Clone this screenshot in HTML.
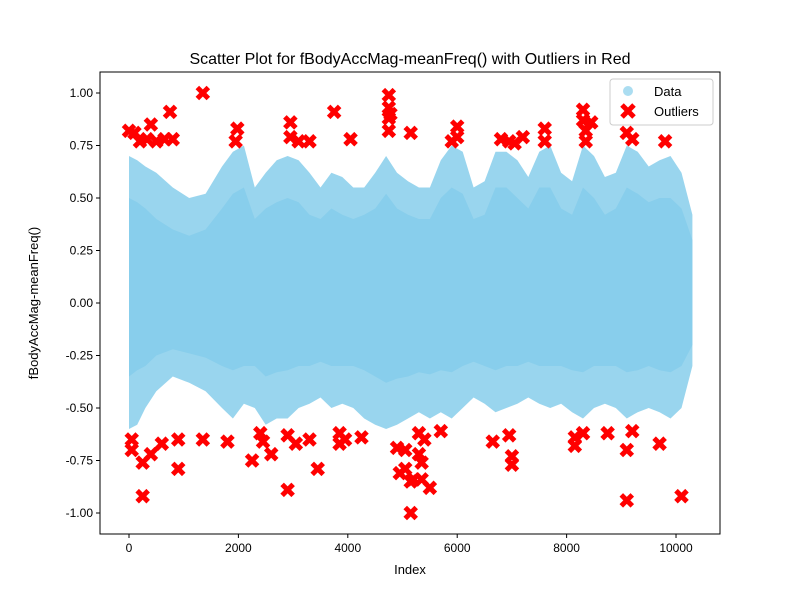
<!DOCTYPE html>
<html><head><meta charset="utf-8"><style>
html,body{margin:0;padding:0;background:#fff;}
svg text{font-family:"Liberation Sans","DejaVu Sans",sans-serif;}
</style></head><body>
<svg id="chart" width="800" height="600" viewBox="0 0 800 600" xmlns="http://www.w3.org/2000/svg">
<rect x="0" y="0" width="800" height="600" fill="#fff"/>
<g id="plot"></g>
<text x="410" y="64" text-anchor="middle" font-size="16">Scatter Plot for fBodyAccMag-meanFreq() with Outliers in Red</text>
<text x="410" y="574" text-anchor="middle" font-size="13">Index</text>
<text x="38" y="303" text-anchor="middle" font-size="13" transform="rotate(-90 38 303)">fBodyAccMag-meanFreq()</text>
<g>
<rect x="610" y="79" width="103" height="46" rx="3" fill="#fff" fill-opacity="0.8" stroke="#ccc"/>
<circle cx="628" cy="91" r="5" fill="#87ceeb" fill-opacity="0.7"/>
<text x="654" y="96" font-size="13">Data</text>
<path d="M622,105 L634,117 M634,105 L622,117" stroke="#f00" stroke-width="5"/>
<text x="654" y="116" font-size="13">Outliers</text>
</g>
</svg>
<script>
const binIndex=[0,150,300,500,800,1100,1400,1700,1900,2100,2300,2500,2700,2900,3100,3300,3500,3700,3900,4100,4300,4500,4700,4900,5100,5300,5500,5700,5900,6100,6300,6500,6700,6900,7100,7300,7500,7700,7900,8100,8300,8500,8700,8900,9100,9300,9500,9700,9900,10100,10300];
const outerUpper=[0.70,0.68,0.65,0.62,0.55,0.50,0.52,0.65,0.72,0.75,0.55,0.62,0.68,0.70,0.68,0.62,0.55,0.62,0.60,0.55,0.55,0.62,0.70,0.62,0.58,0.55,0.55,0.68,0.75,0.72,0.55,0.58,0.72,0.72,0.68,0.60,0.72,0.75,0.62,0.58,0.75,0.70,0.60,0.62,0.75,0.72,0.65,0.68,0.70,0.62,0.42];
const outerLower=[-0.60,-0.58,-0.50,-0.42,-0.35,-0.38,-0.42,-0.50,-0.55,-0.48,-0.50,-0.58,-0.55,-0.55,-0.50,-0.48,-0.45,-0.50,-0.48,-0.50,-0.55,-0.58,-0.60,-0.58,-0.55,-0.52,-0.55,-0.52,-0.55,-0.50,-0.45,-0.48,-0.52,-0.50,-0.48,-0.45,-0.48,-0.50,-0.48,-0.52,-0.55,-0.50,-0.48,-0.50,-0.55,-0.52,-0.50,-0.52,-0.55,-0.50,-0.30];
const coreUpper=[0.50,0.48,0.45,0.40,0.35,0.32,0.35,0.45,0.52,0.55,0.40,0.45,0.48,0.50,0.48,0.42,0.40,0.45,0.42,0.40,0.42,0.45,0.52,0.45,0.42,0.40,0.40,0.50,0.55,0.52,0.40,0.42,0.55,0.55,0.50,0.45,0.55,0.55,0.45,0.42,0.55,0.50,0.42,0.45,0.55,0.52,0.48,0.50,0.50,0.45,0.30];
const coreLower=[-0.35,-0.32,-0.30,-0.25,-0.22,-0.24,-0.26,-0.30,-0.32,-0.30,-0.30,-0.35,-0.33,-0.32,-0.30,-0.30,-0.28,-0.30,-0.30,-0.30,-0.32,-0.35,-0.38,-0.36,-0.35,-0.33,-0.34,-0.32,-0.33,-0.30,-0.28,-0.30,-0.32,-0.30,-0.30,-0.28,-0.30,-0.30,-0.30,-0.32,-0.33,-0.30,-0.30,-0.30,-0.33,-0.32,-0.30,-0.32,-0.33,-0.30,-0.20];
const outlierIndex=[0,100,200,330,400,500,650,750,800,1350,1980,1950,2950,2950,3100,3300,3750,4050,4750,4750,4750,4750,4780,5150,5900,6000,6000,6800,6950,7050,7200,7600,7600,8300,8300,8350,8350,8450,9100,9200,9800,
50,50,250,250,400,600,900,900,1350,1800,2250,2400,2450,2600,2900,2900,3050,3300,3450,3850,3850,3950,4250,4900,4950,5050,5050,5150,5150,5200,5300,5300,5350,5350,5400,5500,5700,6650,6950,7000,7000,8150,8150,8300,8750,9100,9100,9200,9700,10100];
const outlierValue=[0.82,0.81,0.77,0.78,0.85,0.77,0.78,0.91,0.78,1.0,0.83,0.77,0.86,0.79,0.77,0.77,0.91,0.78,0.99,0.93,0.88,0.82,0.90,0.81,0.77,0.84,0.79,0.78,0.77,0.76,0.79,0.83,0.77,0.92,0.87,0.82,0.77,0.86,0.81,0.78,0.77,
-0.65,-0.70,-0.92,-0.76,-0.72,-0.67,-0.65,-0.79,-0.65,-0.66,-0.75,-0.62,-0.66,-0.72,-0.89,-0.63,-0.67,-0.65,-0.79,-0.62,-0.67,-0.65,-0.64,-0.69,-0.81,-0.70,-0.79,-1.0,-0.85,-0.84,-0.62,-0.72,-0.76,-0.84,-0.65,-0.88,-0.61,-0.66,-0.63,-0.73,-0.77,-0.64,-0.68,-0.62,-0.62,-0.70,-0.94,-0.61,-0.67,-0.92];
const xTicks=[0,2000,4000,6000,8000,10000];
const yTicks=[-1.0,-0.75,-0.5,-0.25,0,0.25,0.5,0.75,1.0];

const L=100,R=720,T=72,B=534,xmin=-530,xmax=10804,ymin=-1.1,ymax=1.1;
const sx=v=>L+(v-xmin)/(xmax-xmin)*(R-L);
const sy=v=>B-(v-ymin)/(ymax-ymin)*(B-T);
const NS="http://www.w3.org/2000/svg";
const g=document.getElementById('plot');
function mk(tag,attrs){const e=document.createElementNS(NS,tag);for(const k in attrs)e.setAttribute(k,attrs[k]);g.appendChild(e);return e;}
function band(up,lo,op){let d='';binIndex.forEach((x,i)=>{d+=(i?'L':'M')+sx(x).toFixed(1)+','+sy(up[i]).toFixed(1);});
for(let i=binIndex.length-1;i>=0;i--)d+='L'+sx(binIndex[i]).toFixed(1)+','+sy(lo[i]).toFixed(1);return mk('path',{d:d+'Z',fill:'#87ceeb','fill-opacity':op});}
const ob=band(outerUpper,outerLower,0.85);


const cb=band(coreUpper,coreLower,0.95);


outlierIndex.forEach((xi,i)=>{const x=sx(xi),y=sy(outlierValue[i]),s=5.5;
const p=mk('path',{d:`M${x-s},${y-s}L${x+s},${y+s}M${x+s},${y-s}L${x-s},${y+s}`,stroke:'#f00','stroke-width':5});

});
const frame=mk('rect',{x:L,y:T,width:R-L,height:B-T,fill:'none',stroke:'#000','stroke-width':1});


xTicks.forEach(v=>{const x=sx(v);mk('line',{x1:x,x2:x,y1:B,y2:B+4,stroke:'#000'});
const t=mk('text',{x:x,y:B+18,'text-anchor':'middle','font-size':12});t.textContent=v;

});
yTicks.forEach(v=>{const y=sy(v);mk('line',{x1:L-4,x2:L,y1:y,y2:y,stroke:'#000'});
const t=mk('text',{x:L-7,y:y+4,'text-anchor':'end','font-size':12});t.textContent=v.toFixed(2);

});
</script>
</body></html>
